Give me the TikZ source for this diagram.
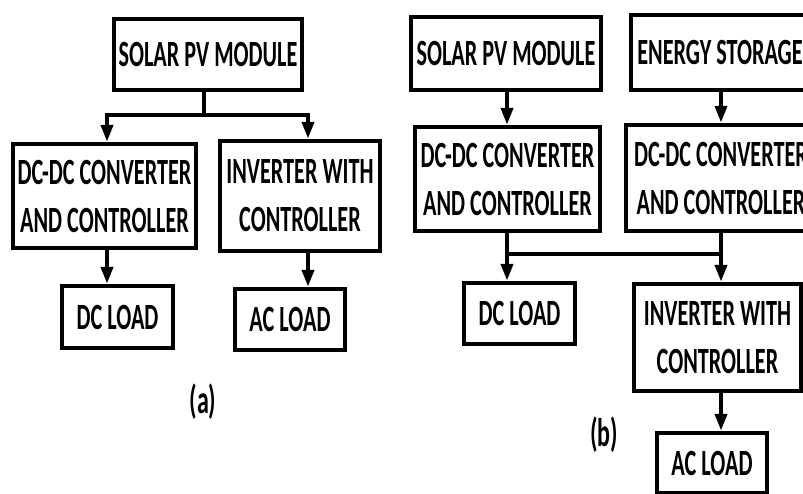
\documentclass[tikz,border=0pt]{standalone}
\usepackage{fontspec}
\usetikzlibrary{arrows.meta,calc}
\newfontfamily\boxfont[FakeStretch=0.6]{Carlito}
\tikzset{
  block/.style={draw=black, line width=4.5pt, fill=white, inner sep=0pt,
    align=center, font={\boxfont\bfseries\fontsize{37}{48}\selectfont}},
  wire/.style={line width=4pt, line join=miter},
  flow/.style={wire, -{Triangle[width=12pt,length=17pt]}},
  split/.style={wire, {Triangle[width=12pt,length=17pt]}-{Triangle[width=12pt,length=17pt]}},
  caption/.style={font={\boxfont\bfseries\fontsize{40}{44}\selectfont}}
}
\begin{document}
\begin{tikzpicture}[x=1pt, y=-1pt]
  \useasboundingbox (0,0) rectangle (803,493);
  \clip (0,0) rectangle (803,493);

  % ---- (a) PV system with DC and AC loads ----
  \node[block, minimum width=188pt, minimum height=71pt] (pva) at (208,54.5) {SOLAR PV MODULE};
  \node[block, minimum width=183pt, minimum height=104pt] (dcdca) at (104.5,196) {DC-DC CONVERTER\\AND CONTROLLER};
  \node[block, minimum width=160pt, minimum height=110pt] (inva) at (300,196) {INVERTER WITH\\CONTROLLER};
  \node[block, minimum width=111pt, minimum height=62pt] (dcloada) at (117.5,317) {DC LOAD};
  \node[block, minimum width=110pt, minimum height=61pt] (acloada) at (290,319.5) {AC LOAD};
  \node[caption] (capa) at (203,402) {(a)};

  \coordinate (stema) at (204,115);
  \coordinate (busaL) at (107,115);
  \coordinate (busaR) at (308,115);
  \draw[wire] (stema |- pva.south) -- (stema);
  \draw[split] (busaL |- dcdca.north) -- (busaL) -- (busaR) -- (busaR |- inva.north);
  \draw[flow] (dcdca.south -| busaL) -- (dcloada.north -| busaL);
  \draw[flow] (inva.south -| busaR) -- (acloada.north -| busaR);

  % ---- (b) PV system with energy storage ----
  \node[block, minimum width=190pt, minimum height=73pt] (pvb) at (506,53.5) {SOLAR PV MODULE};
  \node[block, minimum width=178pt, minimum height=75pt] (store) at (720,52.5) {ENERGY STORAGE};
  \node[block, minimum width=185pt, minimum height=104pt] (dcdcb) at (507.5,179) {DC-DC CONVERTER\\AND CONTROLLER};
  \node[block, minimum width=190pt, minimum height=106pt] (dcdcs) at (721,178) {DC-DC CONVERTER\\AND CONTROLLER};
  \node[block, minimum width=111pt, minimum height=61pt] (dcloadb) at (519.5,313.5) {DC LOAD};
  \node[block, minimum width=167pt, minimum height=107pt] (invb) at (717.5,337.5) {INVERTER WITH\\CONTROLLER};
  \node[block, minimum width=110pt, minimum height=60pt] (acloadb) at (712,463) {AC LOAD};
  \node[caption] (capb) at (604,435) {(b)};

  \coordinate (busbL) at (507,254);
  \coordinate (busbR) at (721,254);
  \draw[flow] (pvb.south -| busbL) -- (dcdcb.north -| busbL);
  \draw[flow] (store.south -| busbR) -- (dcdcs.north -| busbR);
  \draw[wire] (dcdcb.south -| busbL) -- (busbL);
  \draw[wire] (dcdcs.south -| busbR) -- (busbR);
  \draw[split] (busbL |- dcloadb.north) -- (busbL) -- (busbR) -- (busbR |- invb.north);
  \draw[flow] (invb.south -| busbR) -- (acloadb.north -| busbR);
\end{tikzpicture}
\end{document}
